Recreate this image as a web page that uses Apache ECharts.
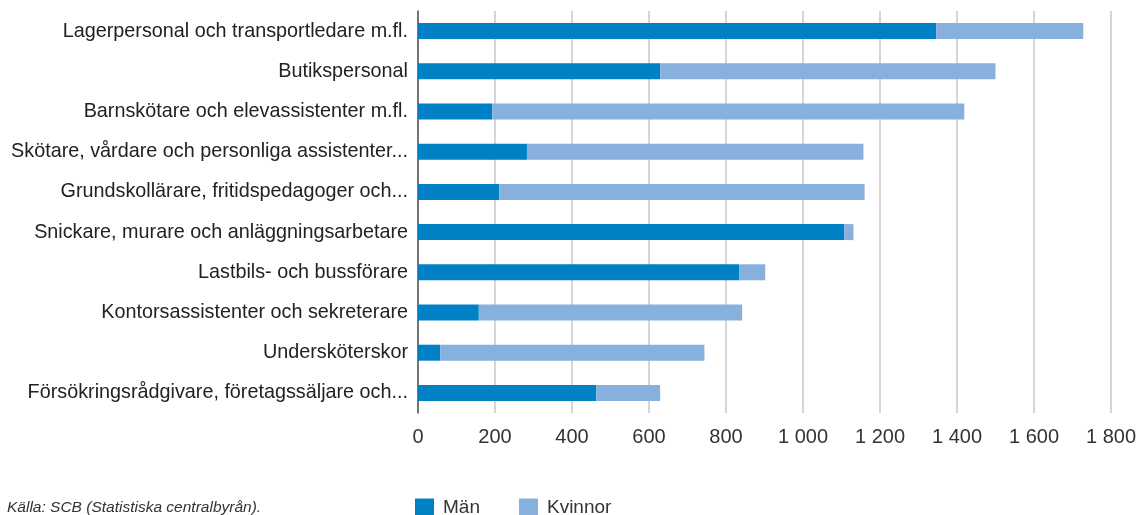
<!DOCTYPE html>
<html>
<head>
<meta charset="utf-8">
<script src="https://cdn.jsdelivr.net/npm/echarts@6/dist/echarts.min.js"></script>
<style>
  html, body { margin: 0; padding: 0; background: #fff; }
  #chart { width: 1139px; height: 515px; }
</style>
</head>
<body>
<div id="chart"></div>
<script>
const categories = [
  'Lagerpersonal och transportledare m.fl.',
  'Butikspersonal',
  'Barnskötare och elevassistenter m.fl.',
  'Skötare, vårdare och personliga assistenter...',
  'Grundskollärare, fritidspedagoger och...',
  'Snickare, murare och anläggningsarbetare',
  'Lastbils- och bussförare',
  'Kontorsassistenter och sekreterare',
  'Undersköterskor',
  'Försökringsrådgivare, företagssäljare och...'
]
const man = [1346, 629, 193, 283, 211, 1107, 834, 158, 58, 463]
const kvinnor = [382, 871, 1226, 874, 949, 24, 68, 684, 686, 166]

const fontFamily = "'Liberation Sans', Arial, sans-serif"

const chart = echarts.init(document.getElementById('chart'))

chart.setOption({
  animation: false,
  textStyle: { fontFamily },
  grid: {
    left: 418,
    right: 28,
    top: 11,
    height: 402
  },
  legend: {
    left: 415,
    top: 498,
    padding: 0,
    itemWidth: 19,
    itemHeight: 18,
    itemGap: 39,
    icon: 'rect',
    textStyle: { fontSize: 19, color: '#333', fontFamily, padding: [0, 0, 0, 4] },
    data: ['Män', 'Kvinnor']
  },
  graphic: [{
    type: 'text',
    left: 7,
    top: 500,
    style: {
      text: 'Källa: SCB (Statistiska centralbyrån).',
      font: 'italic 15.5px ' + fontFamily,
      fill: '#333'
    }
  }],
  xAxis: {
    type: 'value',
    min: 0,
    max: 1800,
    interval: 200,
    axisLine: { show: false },
    axisTick: { show: false },
    splitLine: { lineStyle: { color: '#c8c8c8', width: 1.5 } },
    axisLabel: {
      fontSize: 20,
      color: '#333',
      margin: 14,
      formatter: v => String(v).replace(/\B(?=(\d{3})+(?!\d))/g, ' ')
    }
  },
  yAxis: {
    type: 'category',
    inverse: true,
    data: categories,
    axisLine: { lineStyle: { color: '#555', width: 1.5 } },
    axisTick: { show: false },
    axisLabel: { fontSize: 19.8, color: '#222', margin: 10 }
  },
  series: [
    {
      name: 'Män',
      type: 'bar',
      stack: 'total',
      barWidth: 16,
      itemStyle: { color: '#0081c6' },
      data: man
    },
    {
      name: 'Kvinnor',
      type: 'bar',
      stack: 'total',
      barWidth: 16,
      itemStyle: { color: '#87b0dd' },
      data: kvinnor
    }
  ]
})
</script>
</body>
</html>
